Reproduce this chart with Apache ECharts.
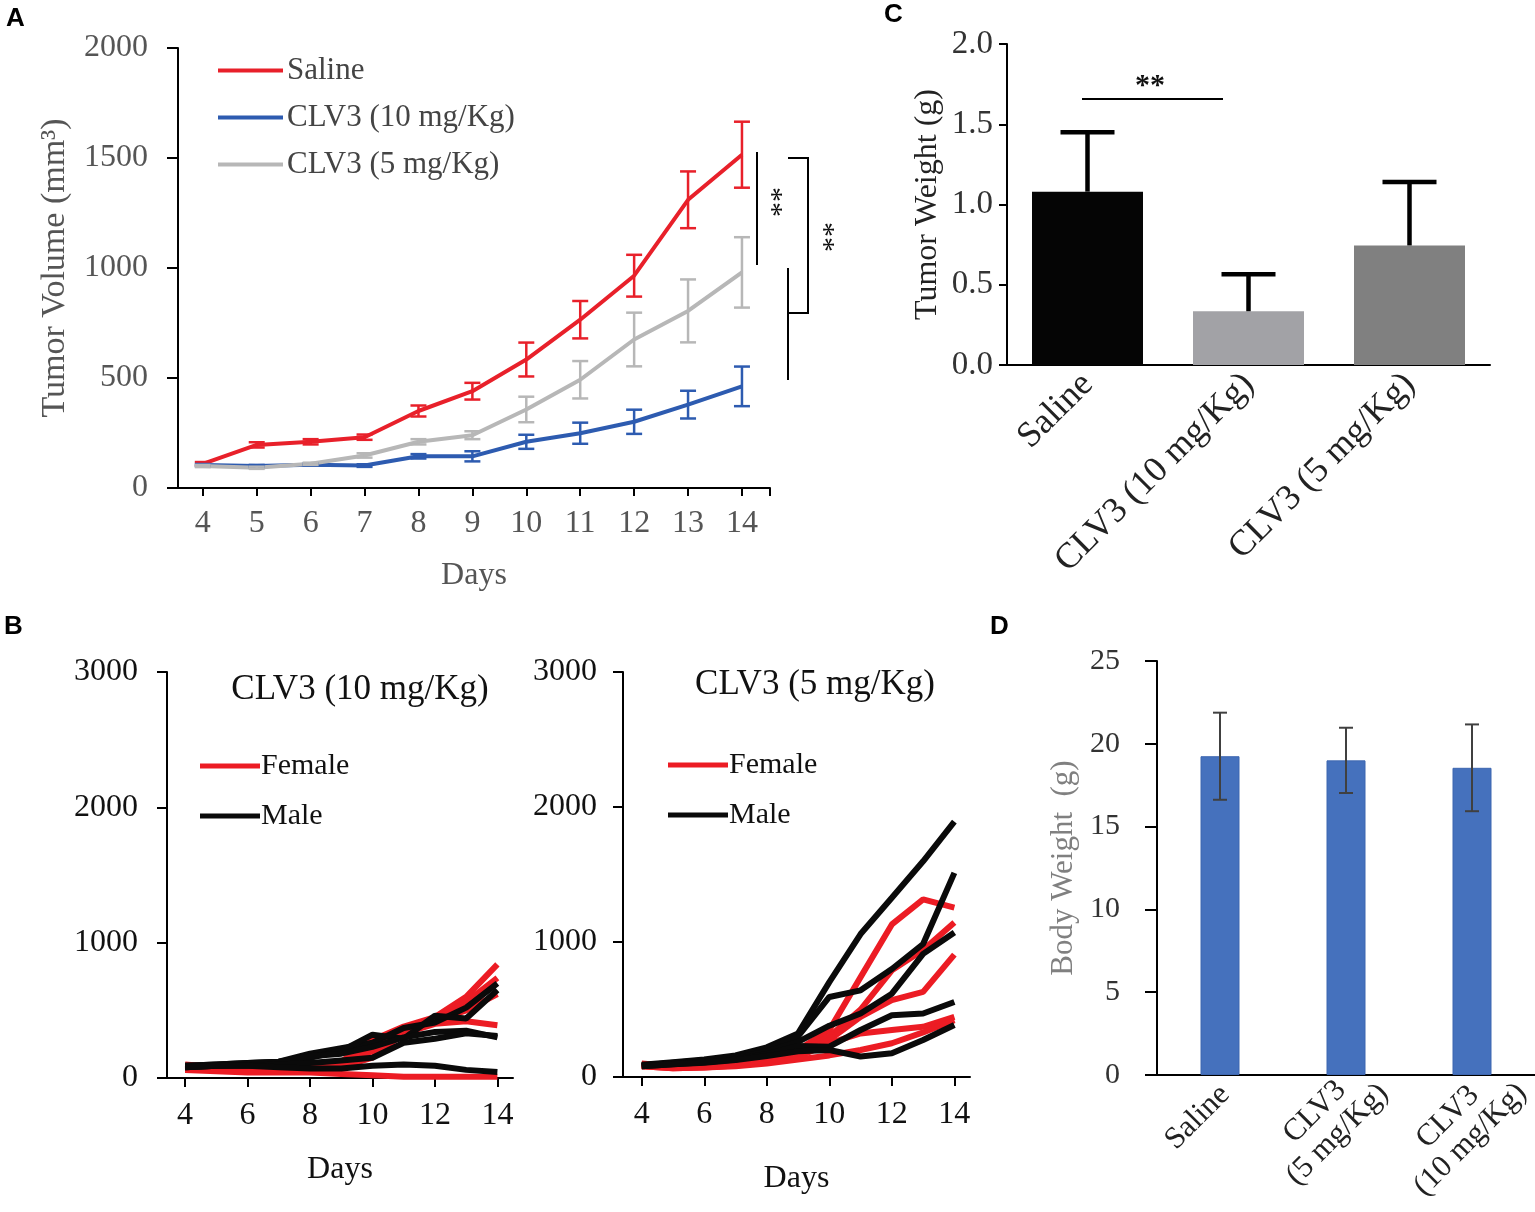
<!DOCTYPE html>
<html lang="en">
<head>
<meta charset="UTF-8">
<title>CLV3 tumor growth</title>
<style>
  html, body { margin: 0; padding: 0; background: #fff; }
  #chart { width: 1535px; height: 1212px; }
</style>
</head>
<body>
<div id="chart"></div>
<script src="https://cdn.jsdelivr.net/npm/echarts@6/dist/echarts.min.js"></script>
<script>
// ---- data ----
var days = [4, 5, 6, 7, 8, 9, 10, 11, 12, 13, 14];
var evenDays = [4, 6, 8, 10, 12, 14];

// panel A: mean tumour volume and SEM
var salineMean = [110, 196, 210, 231, 350, 440, 584, 765, 965, 1310, 1515];
var salineErr  = [8, 12, 12, 12, 25, 38, 77, 85, 95, 129, 150];
var clv10Mean  = [104, 100, 106, 102, 144, 144, 210, 249, 301, 379, 462];
var clv10Err   = [5, 5, 5, 6, 10, 23, 32, 48, 55, 63, 90];
var clv5Mean   = [100, 92, 110, 148, 210, 240, 357, 492, 675, 805, 980];
var clv5Err    = [5, 5, 5, 10, 12, 18, 58, 85, 122, 143, 160];

// panel B: individual mice, days 4..14
var b10Female = [
  [100, 80, 70, 80, 90, 120, 280, 380, 450, 600, 840],
  [90, 75, 60, 70, 80, 110, 250, 360, 440, 560, 740],
  [80, 65, 60, 60, 70, 100, 200, 330, 420, 500, 620],
  [70, 60, 50, 60, 60, 80, 150, 330, 400, 420, 390],
  [60, 50, 40, 40, 40, 30, 20, 10, 10, 10, 10]
];
var b10Male = [
  [90, 100, 110, 120, 180, 220, 260, 370, 410, 520, 700],
  [80, 90, 100, 100, 150, 200, 320, 290, 460, 440, 650],
  [90, 100, 110, 120, 160, 180, 230, 300, 340, 350, 300],
  [80, 90, 90, 100, 110, 130, 150, 260, 290, 330, 310],
  [80, 90, 90, 80, 70, 70, 90, 100, 90, 60, 45]
];
var b5Female = [
  [100, 80, 85, 100, 140, 200, 348, 740, 1130, 1316, 1255],
  [90, 75, 80, 95, 130, 180, 300, 500, 790, 940, 1145],
  [85, 70, 75, 90, 120, 170, 275, 446, 569, 630, 907],
  [80, 65, 70, 85, 110, 150, 250, 323, 348, 372, 446],
  [80, 65, 70, 80, 100, 130, 160, 200, 250, 330, 420]
];
var b5Male = [
  [90, 110, 130, 160, 220, 323, 703, 1059, 1328, 1598, 1892],
  [85, 105, 125, 150, 210, 300, 593, 642, 800, 985, 1512],
  [85, 100, 115, 140, 190, 260, 380, 470, 617, 912, 1071],
  [80, 95, 110, 130, 170, 230, 225, 348, 458, 470, 556],
  [80, 95, 105, 125, 155, 190, 200, 152, 176, 274, 385]
];

// panel C: tumour weight
var weightGroups = ['Saline', 'CLV3 (10 mg/Kg)', 'CLV3 (5 mg/Kg)'];
var weightMean = [1.08, 0.335, 0.745];
var weightErr  = [0.37, 0.23, 0.395];
var weightColors = ['#050505', '#a2a2a6', '#808080'];

// panel D: body weight
var bodyGroups = ['Saline', 'CLV3\n(5 mg/Kg)', 'CLV3\n(10 mg/Kg)'];
var bodyMean = [19.25, 19.0, 18.55];
var bodyErr  = [2.63, 1.97, 2.62];

var serif = 'Liberation Serif';
var RED = '#e8202a', BLUE = '#2d5bb0', GREY = '#b7b7b7';
var BRED = '#ec1c24', BBLACK = '#0a0a0a';

function zip(xs, ys) { return xs.map(function (x, i) { return [x, ys[i]]; }); }
function zip3(xs, ys, es) { return xs.map(function (x, i) { return [x, ys[i], es[i]]; }); }
function plain(v) { return String(v); }

// error bars: vertical stem + caps; oneSided draws only the upper half
function errorBars(capHalf, width, color, oneSided) {
  return function (params, api) {
    var x = api.value(0), m = api.value(1), e = api.value(2);
    var top = api.coord([x, m + e]);
    var bot = api.coord([x, oneSided ? m : m - e]);
    var st = { stroke: color, lineWidth: width };
    var kids = [
      { type: 'line', shape: { x1: top[0], y1: top[1], x2: bot[0], y2: bot[1] }, style: st },
      { type: 'line', shape: { x1: top[0] - capHalf, y1: top[1], x2: top[0] + capHalf, y2: top[1] }, style: st }
    ];
    if (!oneSided) {
      kids.push({ type: 'line', shape: { x1: bot[0] - capHalf, y1: bot[1], x2: bot[0] + capHalf, y2: bot[1] }, style: st });
    }
    return { type: 'group', children: kids };
  };
}

function lineAxis(color) {
  return { show: true, lineStyle: { color: color || '#000', width: 2 } };
}

var myChart = echarts.init(document.getElementById('chart'), null, { renderer: 'canvas' });

var series = [];

// ---- A ----
[[salineMean, salineErr, 'Saline', RED],
 [clv10Mean, clv10Err, 'CLV3 (10 mg/Kg)', BLUE],
 [clv5Mean, clv5Err, 'CLV3 (5 mg/Kg)', GREY]].forEach(function (g) {
  series.push({
    name: g[2], type: 'line', xAxisIndex: 0, yAxisIndex: 0,
    data: zip(days, g[0]), showSymbol: false, symbol: 'none',
    color: g[3], lineStyle: { width: 4, color: g[3] }, z: 3
  });
  series.push({
    name: g[2] + ' SEM', type: 'custom', xAxisIndex: 0, yAxisIndex: 0,
    data: zip3(days, g[0], g[1]), renderItem: errorBars(8, 2.5, g[3], false),
    encode: { x: 0, y: [1, 2] }, z: 4
  });
});

// ---- B ----
function addMice(list, name, color, axis) {
  list.forEach(function (vals) {
    series.push({
      name: name, type: 'line', xAxisIndex: axis, yAxisIndex: axis,
      data: zip(days, vals), showSymbol: false, symbol: 'none',
      color: color, lineStyle: { width: 6, color: color }
    });
  });
}
addMice(b10Female, 'Female', BRED, 2);
addMice(b10Male, 'Male', BBLACK, 2);
addMice(b5Female, 'Female', BRED, 3);
addMice(b5Male, 'Male', BBLACK, 3);

// ---- C ----
series.push({
  name: 'Tumor weight', type: 'bar', xAxisIndex: 1, yAxisIndex: 1, barWidth: 111,
  data: weightMean.map(function (v, i) { return { value: v, itemStyle: { color: weightColors[i] } }; })
});
series.push({
  name: 'Tumor weight SD', type: 'custom', xAxisIndex: 1, yAxisIndex: 1,
  data: weightMean.map(function (v, i) { return [i, v, weightErr[i]]; }),
  renderItem: errorBars(27, 4.5, '#000', true), encode: { x: 0, y: [1, 2] }, z: 5
});

// ---- D ----
series.push({
  name: 'Body weight', type: 'bar', xAxisIndex: 4, yAxisIndex: 4, barWidth: 39,
  itemStyle: { color: '#4571bd', borderColor: '#3d66b0', borderWidth: 1 },
  data: bodyMean
});
series.push({
  name: 'Body weight SD', type: 'custom', xAxisIndex: 4, yAxisIndex: 4,
  data: bodyMean.map(function (v, i) { return [i, v, bodyErr[i]]; }),
  renderItem: errorBars(7, 2, '#404040', false), encode: { x: 0, y: [1, 2] }, z: 5
});

// D category labels: lines centred inside the rotated block, nudged per label
var bodyLabelPad = [[0, -7, 0, 0], [12, -31, 0, 0], [29, -40, 0, 0]];
var bodyCats = bodyGroups.map(function (g, i) {
  return { value: g, textStyle: { padding: bodyLabelPad[i] } };
});

function labelStyle(size, color, margin) {
  return { fontFamily: serif, fontSize: size, color: color, margin: margin };
}
function nameStyle(size, color) {
  return { fontFamily: serif, fontSize: size, color: color };
}

option = {
  backgroundColor: '#fff',
  animation: false,
  grid: [
    { left: 178, top: 48, width: 592, height: 440 },   // A
    { left: 1007, top: 44, width: 483, height: 321 },  // C
    { left: 167, top: 672, width: 346, height: 406 },  // B left
    { left: 623, top: 672, width: 347, height: 405 },  // B right
    { left: 1157, top: 661, width: 378, height: 414 }  // D
  ],
  xAxis: [
    {
      gridIndex: 0, type: 'value', min: 3.54, max: 14.52,
      axisLine: lineAxis(), splitLine: { show: false },
      axisTick: { length: 8, lineStyle: { width: 2, color: '#000' }, customValues: days.concat([14.52]) },
      axisLabel: Object.assign(labelStyle(32, '#555', 20), { customValues: days }),
      name: 'Days', nameLocation: 'middle', nameGap: 72, nameTextStyle: nameStyle(32, '#555')
    },
    {
      gridIndex: 1, type: 'category', data: weightGroups,
      axisLine: lineAxis(), axisTick: { alignWithLabel: true, length: 9, lineStyle: { width: 2, color: '#000' } },
      axisLabel: Object.assign(labelStyle(36, '#222', 14), { rotate: 45, interval: 0 })
    },
    {
      gridIndex: 2, type: 'value', min: 3.42, max: 14.5,
      axisLine: lineAxis(), splitLine: { show: false },
      axisTick: { length: 9, lineStyle: { width: 2, color: '#000' }, customValues: evenDays },
      axisLabel: Object.assign(labelStyle(32, '#111', 22), { customValues: evenDays }),
      name: 'Days', nameLocation: 'middle', nameGap: 76, nameTextStyle: nameStyle(32, '#111')
    },
    {
      gridIndex: 3, type: 'value', min: 3.4, max: 14.5,
      axisLine: lineAxis(), splitLine: { show: false },
      axisTick: { length: 9, lineStyle: { width: 2, color: '#000' }, customValues: evenDays },
      axisLabel: Object.assign(labelStyle(32, '#111', 22), { customValues: evenDays }),
      name: 'Days', nameLocation: 'middle', nameGap: 86, nameTextStyle: nameStyle(32, '#111')
    },
    {
      gridIndex: 4, type: 'category', data: bodyCats,
      axisLine: lineAxis(), axisTick: { length: 10, lineStyle: { width: 2, color: '#000' } },
      axisLabel: Object.assign(labelStyle(30, '#222', 20), {
        rotate: 45, interval: 0,
        formatter: function (v) {
          return v.split('\n').map(function (s) { return '{c|' + s + '}'; }).join('\n');
        },
        rich: { c: { align: 'center', fontFamily: serif, fontSize: 31, lineHeight: 32, color: '#222' } }
      })
    }
  ],
  yAxis: [
    {
      gridIndex: 0, type: 'value', min: 0, max: 2000, interval: 500,
      axisLine: lineAxis(), splitLine: { show: false },
      axisTick: { show: true, length: 11, lineStyle: { width: 2, color: '#000' } },
      axisLabel: Object.assign(labelStyle(32, '#555', 30), { formatter: plain }),
      name: 'Tumor Volume (mm³)', nameLocation: 'middle', nameGap: 106, nameRotate: 90,
      nameTextStyle: nameStyle(34, '#555')
    },
    {
      gridIndex: 1, type: 'value', min: 0, max: 2, interval: 0.5,
      axisLine: lineAxis(), splitLine: { show: false },
      axisTick: { show: true, length: 8, lineStyle: { width: 2, color: '#000' } },
      axisLabel: Object.assign(labelStyle(33, '#333', 14), { formatter: function (v) { return v.toFixed(1); } }),
      name: 'Tumor Weight (g)', nameLocation: 'middle', nameGap: 63, nameRotate: 90,
      nameTextStyle: nameStyle(32, '#222')
    },
    {
      gridIndex: 2, type: 'value', min: 0, max: 3000, interval: 1000,
      axisLine: lineAxis(), splitLine: { show: false },
      axisTick: { show: true, length: 10, lineStyle: { width: 2, color: '#000' } },
      axisLabel: Object.assign(labelStyle(32, '#111', 29), { formatter: plain })
    },
    {
      gridIndex: 3, type: 'value', min: 0, max: 3000, interval: 1000,
      axisLine: lineAxis(), splitLine: { show: false },
      axisTick: { show: true, length: 10, lineStyle: { width: 2, color: '#000' } },
      axisLabel: Object.assign(labelStyle(32, '#111', 26), { formatter: plain })
    },
    {
      gridIndex: 4, type: 'value', min: 0, max: 25, interval: 5,
      axisLine: lineAxis(), splitLine: { show: false },
      axisTick: { show: true, length: 12, lineStyle: { width: 2, color: '#000' } },
      axisLabel: labelStyle(30, '#333', 37),
      name: 'Body Weight  (g)', nameLocation: 'middle', nameGap: 78, nameRotate: 90,
      nameTextStyle: nameStyle(31, '#808080')
    }
  ],
  legend: [
    {
      data: ['Saline', 'CLV3 (10 mg/Kg)', 'CLV3 (5 mg/Kg)'], orient: 'vertical',
      left: 218, top: 55, itemGap: 16, itemWidth: 65, itemHeight: 4, icon: 'rect',
      selectedMode: false, padding: 0,
      textStyle: { fontFamily: serif, fontSize: 31, color: '#444', padding: [0, 0, 0, -1] }
    },
    {
      data: ['Female', 'Male'], orient: 'vertical',
      left: 200, top: 751, itemGap: 20, itemWidth: 60, itemHeight: 5, icon: 'rect',
      selectedMode: false, padding: 0,
      textStyle: { fontFamily: serif, fontSize: 30, color: '#111', padding: [0, 0, 0, -4] }
    },
    {
      data: ['Female', 'Male'], orient: 'vertical',
      left: 668, top: 750, itemGap: 20, itemWidth: 60, itemHeight: 5, icon: 'rect',
      selectedMode: false, padding: 0,
      textStyle: { fontFamily: serif, fontSize: 30, color: '#111', padding: [0, 0, 0, -4] }
    }
  ],
  graphic: [
    // panel letters
    { type: 'text', x: 6, y: 6, style: { text: 'A', font: 'bold 26px "Liberation Sans"', fill: '#000' } },
    { type: 'text', x: 4, y: 614, style: { text: 'B', font: 'bold 26px "Liberation Sans"', fill: '#000' } },
    { type: 'text', x: 884, y: 2, style: { text: 'C', font: 'bold 26px "Liberation Sans"', fill: '#000' } },
    { type: 'text', x: 990, y: 614, style: { text: 'D', font: 'bold 26px "Liberation Sans"', fill: '#000' } },
    // B titles
    { type: 'text', x: 360, y: 690, style: { text: 'CLV3 (10 mg/Kg)', font: '35px "Liberation Serif"', fill: '#111', textAlign: 'center', textVerticalAlign: 'middle' } },
    { type: 'text', x: 815, y: 685, style: { text: 'CLV3 (5 mg/Kg)', font: '35px "Liberation Serif"', fill: '#111', textAlign: 'center', textVerticalAlign: 'middle' } },
    // A significance brackets
    { type: 'line', shape: { x1: 757, y1: 152, x2: 757, y2: 265 }, style: { stroke: '#000', lineWidth: 2 } },
    { type: 'polyline', shape: { points: [[788, 158], [808, 158], [808, 313], [788, 313]] }, style: { stroke: '#000', lineWidth: 2, fill: null } },
    { type: 'line', shape: { x1: 788, y1: 268, x2: 788, y2: 380 }, style: { stroke: '#000', lineWidth: 2 } },
    { type: 'text', x: 771, y: 202, rotation: -Math.PI / 2, style: { text: '**', font: '30px "Liberation Serif"', fill: '#111', textAlign: 'center', textVerticalAlign: 'middle' } },
    { type: 'text', x: 823, y: 237, rotation: -Math.PI / 2, style: { text: '**', font: '30px "Liberation Serif"', fill: '#111', textAlign: 'center', textVerticalAlign: 'middle' } },
    // C significance line
    { type: 'line', shape: { x1: 1082, y1: 99, x2: 1223, y2: 99 }, style: { stroke: '#000', lineWidth: 2 } },
    { type: 'text', x: 1150, y: 86, style: { text: '**', font: 'bold 30px "Liberation Serif"', fill: '#111', textAlign: 'center', textVerticalAlign: 'middle' } }
  ],
  series: series
};

myChart.setOption(option);
</script>
</body>
</html>
